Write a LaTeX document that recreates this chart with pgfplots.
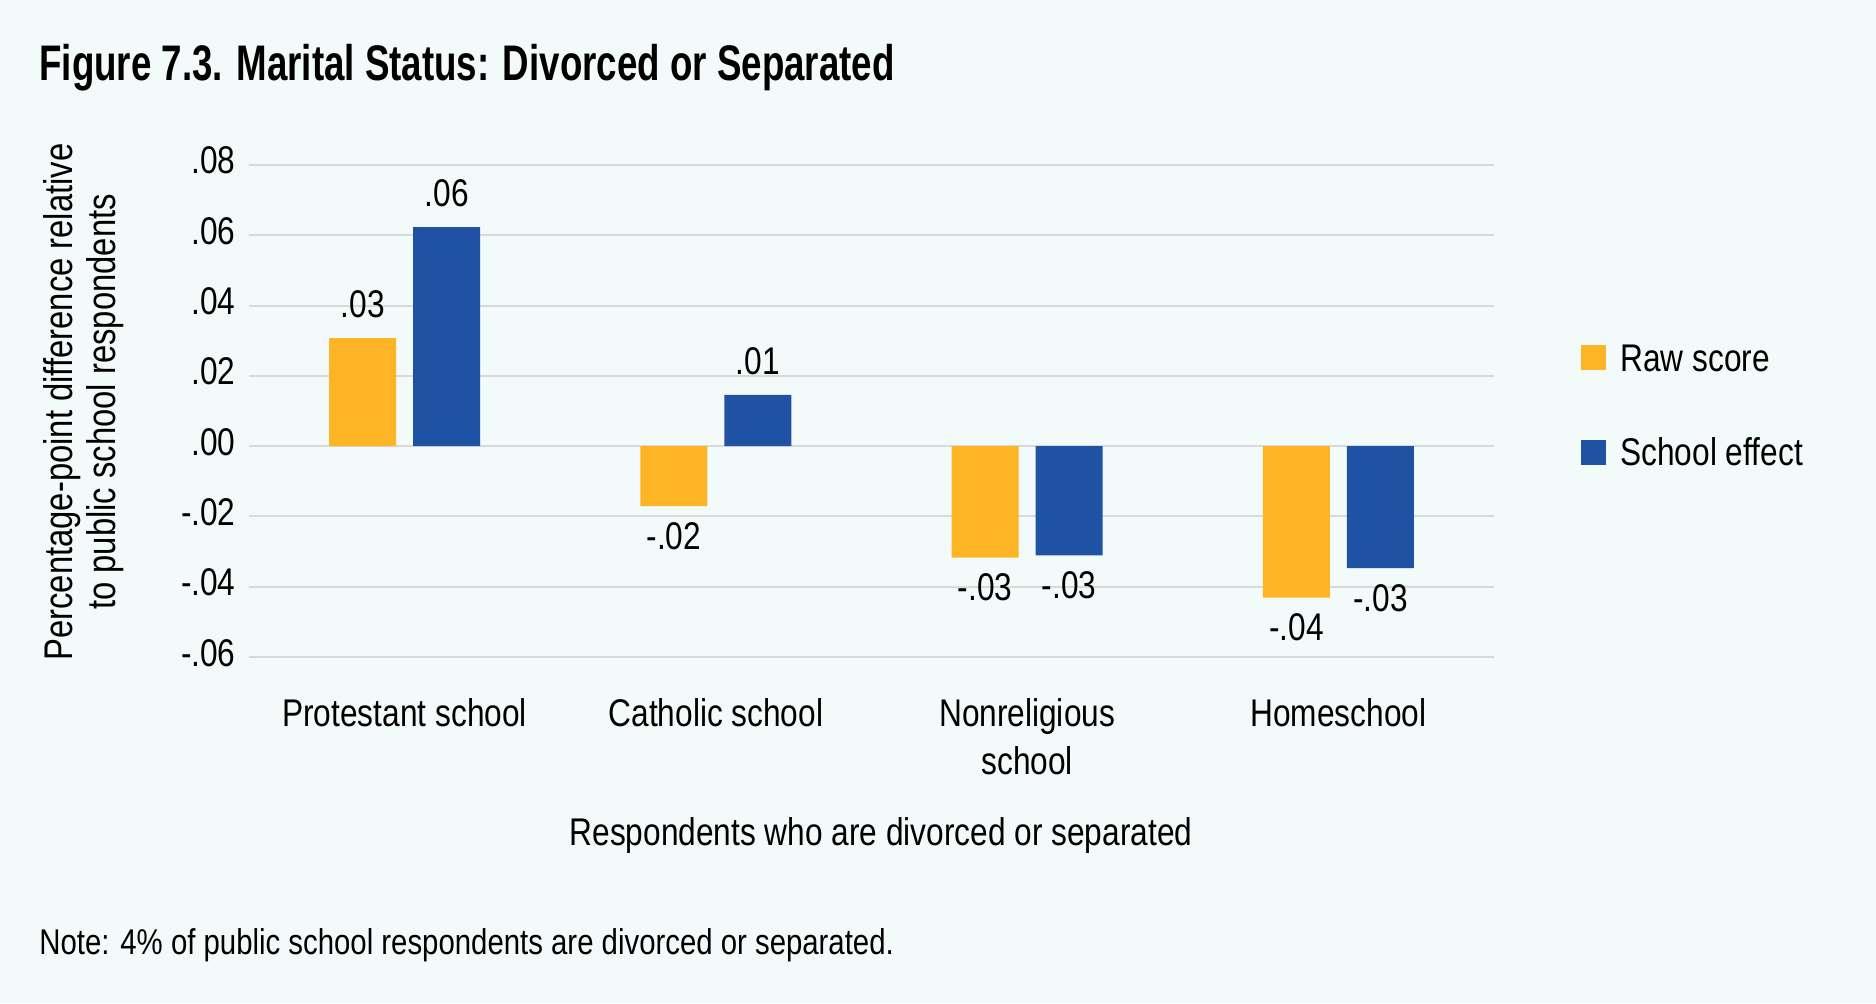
\documentclass[border=0pt]{standalone}
\usepackage{pgfplots}
\pgfplotsset{compat=1.18}
\usepackage{fontspec}
\setmainfont{Liberation Sans}[FakeStretch=0.82]
\newfontfamily\titlefont{Liberation Sans}[FakeStretch=0.734]

\definecolor{bg}{HTML}{F3FBFA}
\definecolor{rawc}{HTML}{FDB525}
\definecolor{schc}{HTML}{1F52A3}
\definecolor{gridc}{HTML}{D9D9D9}

\begin{document}
\fontsize{19.3pt}{21.5pt}\selectfont
\begin{tikzpicture}
\fill[bg] (0,0) rectangle (938pt,501.5pt);

\begin{axis}[
  at={(124.5pt,173pt)}, anchor=south west,
  scale only axis, width=622.5pt, height=246pt,
  ybar=8.5pt, bar width=33.5pt,
  xmin=-0.5, xmax=3.5, ymin=-0.06, ymax=0.08,
  scaled y ticks=false,
  xtick={0,1,2,3},
  xticklabels={Protestant school, Catholic school, {Nonreligious\\[2.5pt]school}, Homeschool},
  ytick={-0.06,-0.04,-0.02,0,0.02,0.04,0.06,0.08},
  yticklabels={-.06,-.04,-.02,.00,.02,.04,.06,.08},
  xticklabel style={align=center, anchor=north, inner sep=0pt, yshift=-20.5pt},
  yticklabel style={anchor=base east, inner sep=0pt, xshift=-6.5pt, yshift=-4.5pt},
  axis line style={draw=none}, major tick length=0pt,
  ymajorgrids, major grid style={gridc, line width=1pt},
  clip=false,
  point meta=y,
  visualization depends on={value \thisrow{lab} \as \lab},
  nodes near coords={\lab},
  nodes near coords align={vertical},
  every node near coord/.append style={black, inner xsep=0pt, inner ysep=10pt,
    text height=11.3pt, text depth=0pt},
  legend style={draw=none, fill=none, at={(1.0699,0.5126)}, anchor=west,
    inner sep=0pt, row sep=33.45pt, column sep=7pt,
    nodes={inner sep=0pt, text height=13.8pt, text depth=0pt}},
  legend cell align=left,
  legend image code/.code={\fill[#1] (0pt,-6.25pt) rectangle (12.5pt,6.25pt);},
]
\addplot[fill=rawc, draw=none] table[x=x, y=y] {
x y lab
0 0.0307 .03
1 -0.0171 -.02
2 -0.0317 -.03
3 -0.0431 -.04
};
\addplot[fill=schc, draw=none] table[x=x, y=y] {
x y lab
0 0.0623 .06
1 0.0146 .01
2 -0.0311 -.03
3 -0.0347 -.03
};
\legend{Raw score, School effect}
\end{axis}

\node[anchor=base west, inner sep=0pt, font=\titlefont\bfseries\fontsize{25pt}{30pt}\selectfont]
  at (19.5pt,461pt) {Figure 7.3. Marital Status: Divorced or Separated};
\node[rotate=90, align=center, font=\fontsize{20pt}{21.5pt}\selectfont] at (41.75pt,300.5pt)
  {Percentage-point difference relative\\to public school respondents};
\node[anchor=base] at (440.5pt,79pt) {Respondents who are divorced or separated};
\node[anchor=base west, inner sep=0pt, font=\fontsize{17.9pt}{21pt}\selectfont] at (19.5pt,24.25pt)
  {Note: 4\% of public school respondents are divorced or separated.};

\pgfresetboundingbox
\useasboundingbox (0,0) rectangle (938pt,501.5pt);
\end{tikzpicture}
\end{document}
